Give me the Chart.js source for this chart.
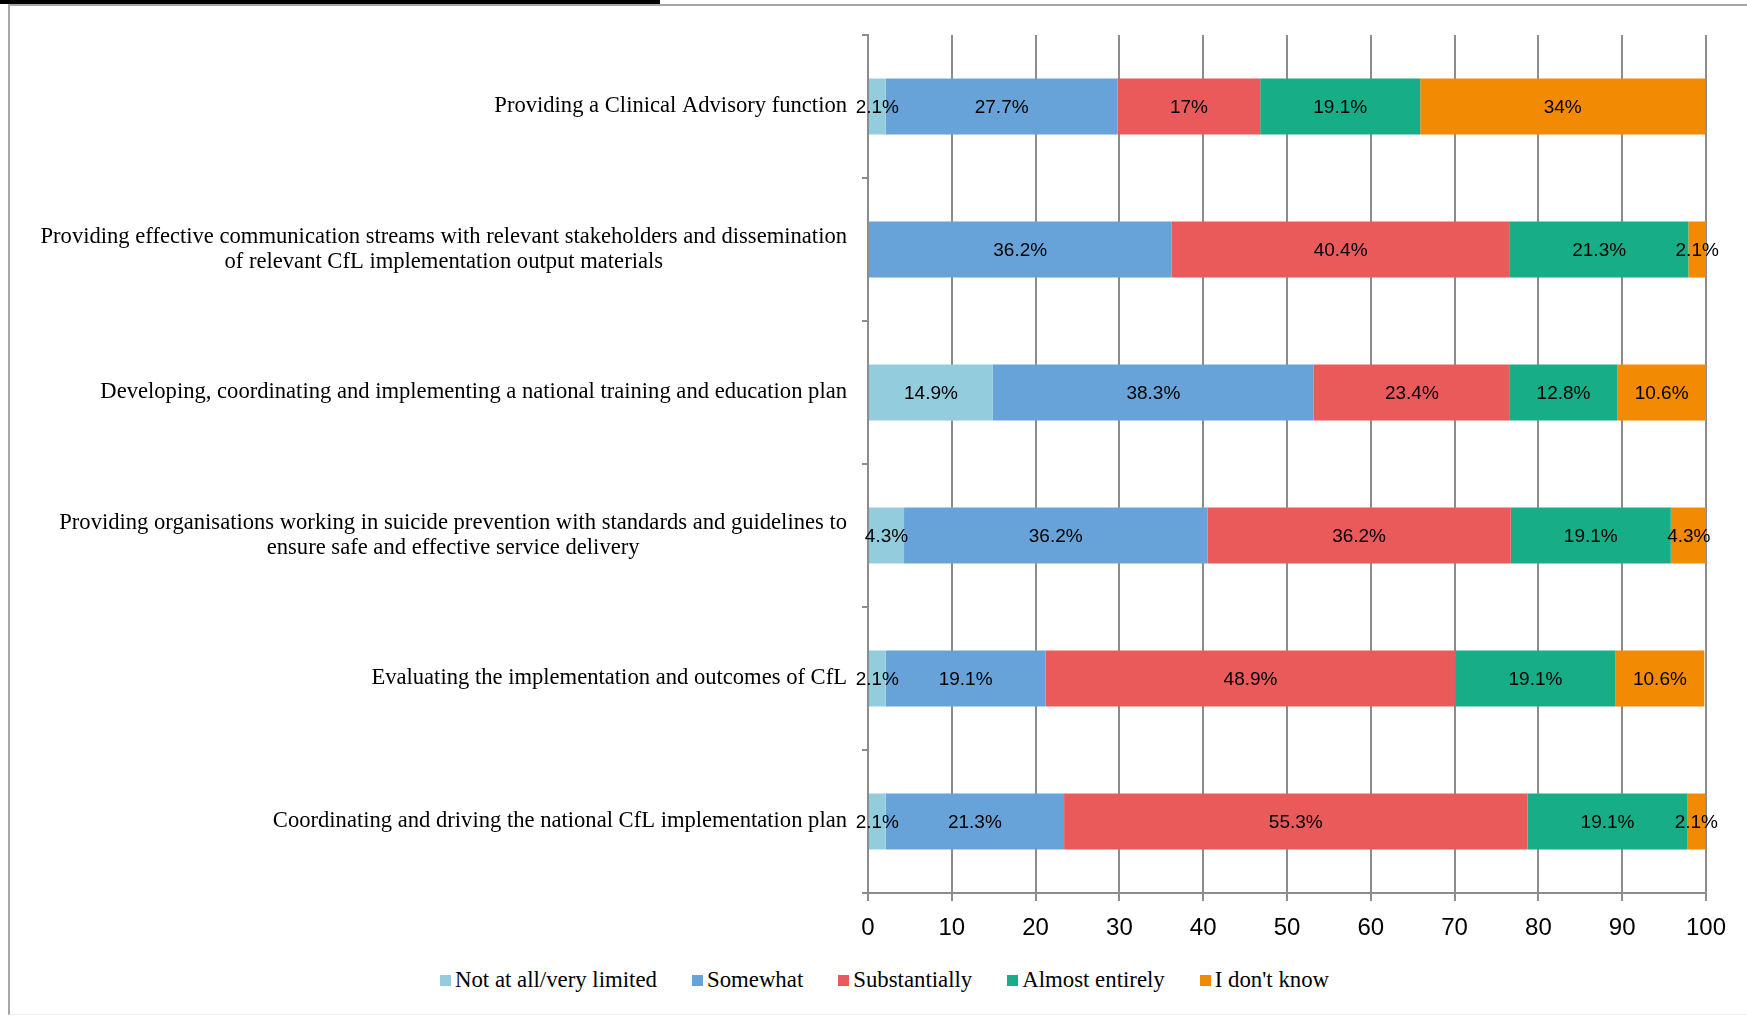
<!DOCTYPE html>
<html>
<head>
<meta charset="utf-8">
<script src="https://cdn.jsdelivr.net/npm/chart.js@4/dist/chart.umd.min.js"></script>
<style>
  html, body { margin: 0; padding: 0; background: #fff; }
  body { width: 1747px; height: 1016px; position: relative; overflow: hidden; }
  .caption-rule { position: absolute; left: 0; top: 0; width: 660px; height: 4px; background: #000; }
  .frame { position: absolute; left: 8px; top: 4px; right: -4px; bottom: 1px;
           border-left: 2px solid #a6a6a6; border-top: 2px solid #a6a6a6; border-bottom: 1px solid #efefef; }
  .wrap { position: absolute; left: 0; top: 0; width: 1747px; height: 950px; }
  #legend { position: absolute; left: 440px; top: 967px; display: flex; align-items: center;
            font-family: "Liberation Serif", serif; font-size: 22.8px; color: #000; white-space: nowrap; }
  #legend .item { display: flex; align-items: center; margin-right: 35px; }
  #legend .box { width: 11px; height: 11px; margin-right: 4px; }
</style>
</head>
<body>
<div class="caption-rule"></div>
<div class="frame"></div>
<div class="wrap"><canvas id="cflChart"></canvas></div>
<div id="legend"></div>
<script>
const categories = [
  'Providing a Clinical Advisory function',
  ['Providing effective communication streams with relevant stakeholders and dissemination',
   'of relevant CfL implementation output materials'],
  'Developing, coordinating and implementing a national training and education plan',
  ['Providing organisations working in suicide prevention with standards and guidelines to',
   'ensure safe and effective service delivery'],
  'Evaluating the implementation and outcomes of CfL',
  'Coordinating and driving the national CfL implementation plan'
];

const seriesNames = ['Not at all/very limited', 'Somewhat', 'Substantially', 'Almost entirely', "I don't know"];
const seriesColors = ['#93cddd', '#67a3d8', '#eb5a5a', '#17ad87', '#f28a03'];

const notAtAll = [2.1, 0, 14.9, 4.3, 2.1, 2.1];
const somewhat = [27.7, 36.2, 38.3, 36.2, 19.1, 21.3];
const substantially = [17, 40.4, 23.4, 36.2, 48.9, 55.3];
const almostEntirely = [19.1, 21.3, 12.8, 19.1, 19.1, 19.1];
const dontKnow = [34, 2.1, 10.6, 4.3, 10.6, 2.1];

const xTicks = [0, 10, 20, 30, 40, 50, 60, 70, 80, 90, 100];

const seriesValues = [notAtAll, somewhat, substantially, almostEntirely, dontKnow];

const gridGrey = '#8c8c8c';
const labelFont = '"Liberation Serif", serif';
const numberFont = '"Liberation Sans", sans-serif';

// value labels in the middle of every segment
const segmentLabels = {
  id: 'segmentLabels',
  afterDatasetsDraw(chart) {
    const ctx = chart.ctx;
    ctx.save();
    ctx.font = '19px ' + numberFont;
    ctx.fillStyle = '#000';
    ctx.textAlign = 'center';
    ctx.textBaseline = 'middle';
    chart.data.datasets.forEach(function (ds, i) {
      const meta = chart.getDatasetMeta(i);
      meta.data.forEach(function (bar, j) {
        const v = ds.data[j];
        if (!v) return;
        const p = bar.getCenterPoint();
        ctx.fillText(v + '%', p.x, p.y + 1);
      });
    });
    ctx.restore();
  }
};

// category names: right edge near the axis, wrapped lines centred on each other
const categoryLabels = {
  id: 'categoryLabels',
  afterDraw(chart) {
    const ctx = chart.ctx;
    const yScale = chart.scales.y;
    const right = chart.chartArea.left - 21;
    const lineH = 25;
    ctx.save();
    ctx.font = '22.6px ' + labelFont;
    ctx.fillStyle = '#000';
    ctx.textAlign = 'center';
    ctx.textBaseline = 'middle';
    categories.forEach(function (cat, i) {
      const lines = Array.isArray(cat) ? cat : [cat];
      const widest = Math.max.apply(null, lines.map(function (l) { return ctx.measureText(l).width; }));
      const cx = right - widest / 2;
      const cy = yScale.getPixelForValue(i);
      lines.forEach(function (l, k) {
        ctx.fillText(l, cx, cy + (k - (lines.length - 1) / 2) * lineH);
      });
    });
    ctx.restore();
  }
};

const chart = new Chart(document.getElementById('cflChart'), {
  type: 'bar',
  data: {
    labels: categories,
    datasets: seriesNames.map(function (name, i) {
      return {
        label: name,
        data: seriesValues[i],
        backgroundColor: seriesColors[i],
        borderWidth: 0,
        categoryPercentage: 1,
        barPercentage: 0.39
      };
    })
  },
  options: {
    indexAxis: 'y',
    responsive: true,
    maintainAspectRatio: false,
    animation: false,
    layout: { padding: { top: 35, right: 41, bottom: 0, left: 0 } },
    plugins: {
      legend: { display: false },
      tooltip: { enabled: false }
    },
    scales: {
      x: {
        stacked: true,
        min: 0,
        max: 100,
        afterBuildTicks: function (scale) {
          scale.ticks = xTicks.map(function (v) { return { value: v }; });
        },
        afterFit: function (scale) { scale.height = 57; },
        grid: { color: gridGrey, lineWidth: 2, tickLength: 8, drawTicks: true },
        border: { color: gridGrey, width: 2 },
        ticks: {
          color: '#000',
          padding: 13,
          maxRotation: 0,
          font: { family: numberFont, size: 24 }
        }
      },
      y: {
        stacked: true,
        afterFit: function (scale) { scale.width = 868; },
        grid: { drawOnChartArea: false, drawTicks: true, tickLength: 6, color: gridGrey, lineWidth: 2, offset: true },
        border: { color: gridGrey, width: 2 },
        ticks: { display: false }
      }
    }
  },
  plugins: [segmentLabels, categoryLabels]
});

// legend built from the chart's datasets
const legendEl = document.getElementById('legend');
chart.data.datasets.forEach(function (ds) {
  const item = document.createElement('div');
  item.className = 'item';
  const box = document.createElement('span');
  box.className = 'box';
  box.style.background = ds.backgroundColor;
  const txt = document.createElement('span');
  txt.textContent = ds.label;
  item.appendChild(box);
  item.appendChild(txt);
  legendEl.appendChild(item);
});
</script>
</body>
</html>
